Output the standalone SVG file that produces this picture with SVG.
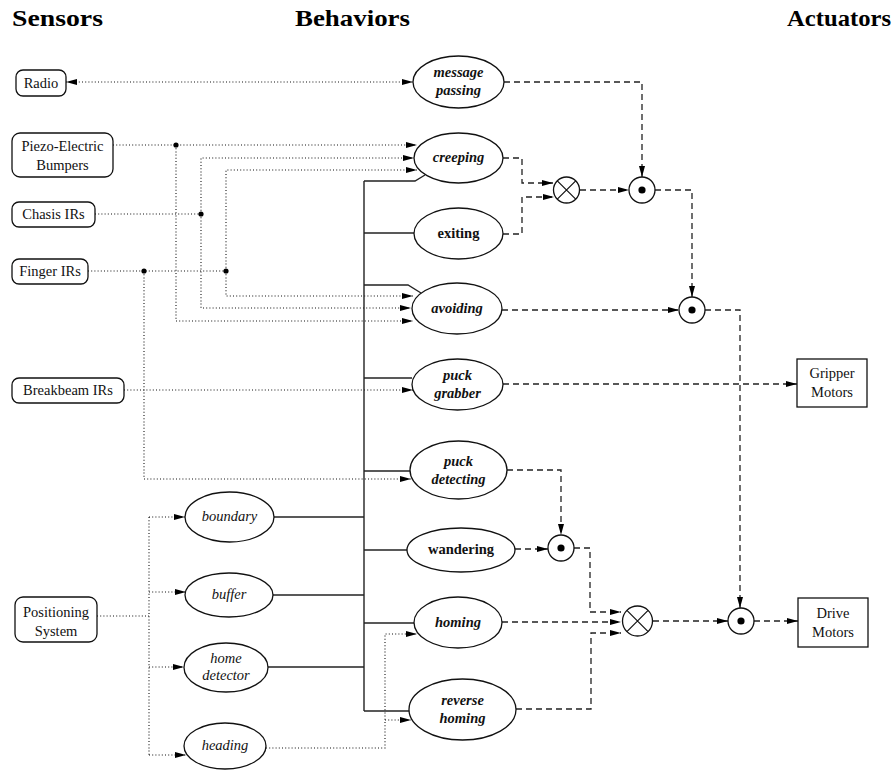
<svg xmlns="http://www.w3.org/2000/svg" width="896" height="771" viewBox="0 0 896 771">
<style>
.hdr{font-family:"Liberation Serif","Times New Roman",serif;font-weight:bold;font-size:24px;fill:#000}
.t{font-family:"Liberation Serif","Times New Roman",serif;font-size:14.5px;fill:#111;text-anchor:middle}
.bi{font-weight:bold;font-style:italic}
.b{font-weight:bold}
.i{font-style:italic}
.box{fill:#fff;stroke:#111;stroke-width:1.3}
.ell{fill:#fff;stroke:#111;stroke-width:1.3}
.dot{fill:none;stroke:#111;stroke-width:1.1;stroke-dasharray:1 2.2}
.dash{fill:none;stroke:#222;stroke-width:1.3;stroke-dasharray:6 4}
.sol{fill:none;stroke:#222;stroke-width:1.4}
.jn{fill:#000}
</style>
<defs>
<marker id="ah" viewBox="0 0 11 6" refX="11" refY="3" markerWidth="11" markerHeight="6" orient="auto-start-reverse" markerUnits="userSpaceOnUse"><path d="M0,0 L11,3 L0,6 z" fill="#000"/></marker>
</defs>

<g id="headers">
<text class="hdr" x="12" y="26" textLength="91" lengthAdjust="spacingAndGlyphs">Sensors</text>
<text class="hdr" x="295" y="26" textLength="115" lengthAdjust="spacingAndGlyphs">Behaviors</text>
<text class="hdr" x="787" y="26" textLength="104" lengthAdjust="spacingAndGlyphs">Actuators</text>
</g>

<g id="connectors">
<path class="dot" d="M66,82 H413" marker-start="url(#ah)" marker-end="url(#ah)"/>
<path class="dot" d="M113,145 H417" marker-end="url(#ah)"/>
<path class="dot" d="M176,145 V321 H413" marker-end="url(#ah)"/>
<path class="dot" d="M95,214 H201"/>
<path class="dot" d="M201,214 V158 H414" marker-end="url(#ah)"/>
<path class="dot" d="M201,214 V308 H411" marker-end="url(#ah)"/>
<path class="dot" d="M88,271 H226"/>
<path class="dot" d="M226,271 V170 H417" marker-end="url(#ah)"/>
<path class="dot" d="M226,271 V296 H413" marker-end="url(#ah)"/>
<path class="dot" d="M144,271 V479 H411" marker-end="url(#ah)"/>
<path class="dot" d="M124,390 H413" marker-end="url(#ah)"/>
<path class="dot" d="M97,616 H149"/>
<path class="dot" d="M149,517 V755"/>
<path class="dot" d="M149,517 H185" marker-end="url(#ah)"/>
<path class="dot" d="M149,592 H186" marker-end="url(#ah)"/>
<path class="dot" d="M149,667 H184" marker-end="url(#ah)"/>
<path class="dot" d="M149,755 H186" marker-end="url(#ah)"/>
<path class="dot" d="M266,748 H385 V634 H417" marker-end="url(#ah)"/>
<path class="dot" d="M385,720 H411" marker-end="url(#ah)"/>
<circle class="jn" cx="176" cy="145" r="2.6"/>
<circle class="jn" cx="201" cy="214" r="2.6"/>
<circle class="jn" cx="226" cy="271" r="2.6"/>
<circle class="jn" cx="144" cy="271" r="2.6"/>
<path class="sol" d="M364,181 V711"/>
<path class="sol" d="M364,181 H415 L425,175"/>
<path class="sol" d="M364,233 H414"/>
<path class="sol" d="M364,285 H408 L421,293"/>
<path class="sol" d="M364,378 H412"/>
<path class="sol" d="M364,471 H410"/>
<path class="sol" d="M274,517 H364"/>
<path class="sol" d="M364,550 H407"/>
<path class="sol" d="M273,595 H364"/>
<path class="sol" d="M364,623 H414"/>
<path class="sol" d="M268,667 H364"/>
<path class="sol" d="M364,711 H409"/>
<path class="dash" d="M504,82 H642 V177" marker-end="url(#ah)"/>
<path class="dash" d="M503,158 H522 V183 H553" marker-end="url(#ah)"/>
<path class="dash" d="M503,234 H522 V197 H554" marker-end="url(#ah)"/>
<path class="dash" d="M580,190 H629" marker-end="url(#ah)"/>
<path class="dash" d="M655,190 H692 V297" marker-end="url(#ah)"/>
<path class="dash" d="M502,310 H679" marker-end="url(#ah)"/>
<path class="dash" d="M705,310 H740 V608" marker-end="url(#ah)"/>
<path class="dash" d="M503,384 H797" marker-end="url(#ah)"/>
<path class="dash" d="M507,470 H561 V535" marker-end="url(#ah)"/>
<path class="dash" d="M515,549 H548" marker-end="url(#ah)"/>
<path class="dash" d="M574,548 H590 V612 H621" marker-end="url(#ah)"/>
<path class="dash" d="M502,622 H621" marker-end="url(#ah)"/>
<path class="dash" d="M516,709 H591 V633 H621" marker-end="url(#ah)"/>
<path class="dash" d="M653,621 H728" marker-end="url(#ah)"/>
<path class="dash" d="M754,621 H798" marker-end="url(#ah)"/>
</g>

<g id="radio"><rect class="box" x="16" y="70" width="50" height="26" rx="7"/><text class="t" x="41" y="88">Radio</text></g>
<g id="piezo"><rect class="box" x="12" y="133" width="101" height="44" rx="8"/><text class="t" x="62.5" y="151">Piezo-Electric</text><text class="t" x="62.5" y="170">Bumpers</text></g>
<g id="chasis"><rect class="box" x="12" y="202" width="83" height="25" rx="7"/><text class="t" x="53.5" y="219">Chasis IRs</text></g>
<g id="finger"><rect class="box" x="12" y="259" width="76" height="25" rx="7"/><text class="t" x="50" y="276">Finger IRs</text></g>
<g id="breakbeam"><rect class="box" x="12" y="378" width="112" height="25" rx="7"/><text class="t" x="68" y="395">Breakbeam IRs</text></g>
<g id="positioning"><rect class="box" x="15" y="597" width="82" height="45" rx="8"/><text class="t" x="56" y="617">Positioning</text><text class="t" x="56" y="636">System</text></g>

<g id="message-passing"><ellipse class="ell" cx="458.5" cy="82" rx="45.5" ry="26"/><text class="t bi" x="458.5" y="77">message</text><text class="t bi" x="458.5" y="95">passing</text></g>
<g id="creeping"><ellipse class="ell" cx="458.5" cy="158" rx="44.5" ry="25"/><text class="t bi" x="458.5" y="162">creeping</text></g>
<g id="exiting"><ellipse class="ell" cx="458.5" cy="233.5" rx="44.5" ry="25.5"/><text class="t b" x="458.5" y="238">exiting</text></g>
<g id="avoiding"><ellipse class="ell" cx="457" cy="308.5" rx="45" ry="25.5"/><text class="t bi" x="457" y="313">avoiding</text></g>
<g id="puck-grabber"><ellipse class="ell" cx="457.5" cy="384.5" rx="45.5" ry="25.5"/><text class="t bi" x="457.5" y="380">puck</text><text class="t bi" x="457.5" y="398">grabber</text></g>
<g id="puck-detecting"><ellipse class="ell" cx="458.5" cy="470" rx="48.5" ry="29"/><text class="t bi" x="458.5" y="466">puck</text><text class="t bi" x="458.5" y="484">detecting</text></g>
<g id="wandering"><ellipse class="ell" cx="461" cy="550" rx="54" ry="22"/><text class="t b" x="461" y="554">wandering</text></g>
<g id="homing"><ellipse class="ell" cx="458" cy="622.5" rx="44" ry="25.5"/><text class="t bi" x="458" y="627">homing</text></g>
<g id="reverse-homing"><ellipse class="ell" cx="462.5" cy="709.5" rx="53.5" ry="30.5"/><text class="t bi" x="462.5" y="705">reverse</text><text class="t bi" x="462.5" y="723">homing</text></g>

<g id="boundary"><ellipse class="ell" cx="229.5" cy="517" rx="44.5" ry="25"/><text class="t i" x="229.5" y="521">boundary</text></g>
<g id="buffer"><ellipse class="ell" cx="229" cy="595" rx="44" ry="22"/><text class="t i" x="229" y="599">buffer</text></g>
<g id="home-detector"><ellipse class="ell" cx="226" cy="667.5" rx="42" ry="24.5"/><text class="t i" x="226" y="663">home</text><text class="t i" x="226" y="680">detector</text></g>
<g id="heading"><ellipse class="ell" cx="225" cy="746" rx="41" ry="23"/><text class="t i" x="225" y="750">heading</text></g>

<g id="combine-x1"><circle class="ell" cx="566.5" cy="190" r="13"/><path d="M557.3,180.8 L575.7,199.2 M575.7,180.8 L557.3,199.2" fill="none" stroke="#111" stroke-width="1.2"/></g>
<g id="combine-dot1"><circle class="ell" cx="642" cy="190" r="13"/><circle class="jn" cx="642" cy="190" r="3.6"/></g>
<g id="combine-dot2"><circle class="ell" cx="692" cy="310" r="13"/><circle class="jn" cx="692" cy="310" r="3.6"/></g>
<g id="combine-dot3"><circle class="ell" cx="561" cy="548" r="13"/><circle class="jn" cx="561" cy="548" r="3.6"/></g>
<g id="combine-x2"><circle class="ell" cx="637.5" cy="621" r="15"/><path d="M626.9,610.4 L648.1,631.6 M648.1,610.4 L626.9,631.6" fill="none" stroke="#111" stroke-width="1.2"/></g>
<g id="combine-dot4"><circle class="ell" cx="741" cy="621" r="13"/><circle class="jn" cx="741" cy="621" r="3.6"/></g>

<g id="gripper-motors"><rect class="box" x="797" y="359" width="70" height="48"/><text class="t" x="832" y="378">Gripper</text><text class="t" x="832" y="397">Motors</text></g>
<g id="drive-motors"><rect class="box" x="798" y="598" width="70" height="49"/><text class="t" x="833" y="618">Drive</text><text class="t" x="833" y="637">Motors</text></g>
</svg>
